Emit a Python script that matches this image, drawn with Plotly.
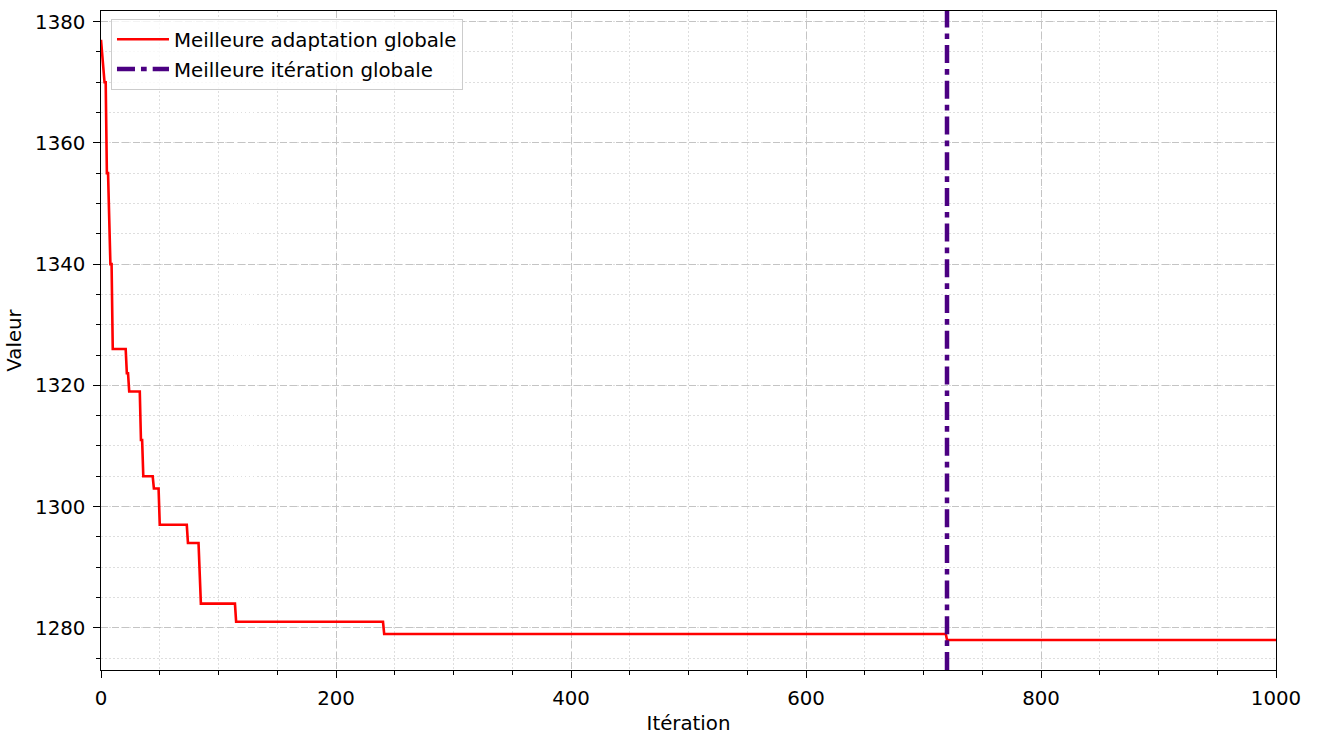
import plotly.graph_objects as go

# Best-so-far fitness: vertices of the stepped convergence curve
iterations = [0, 3, 4, 5, 6, 8, 9, 10, 21, 22, 23, 24, 33, 34, 35, 36, 44, 45,
              49, 50, 73, 74, 83, 85, 114, 115, 240, 241, 719, 720, 1000]
best_fitness = [1377, 1370, 1370, 1355, 1355, 1340, 1340, 1326, 1326, 1322, 1322, 1319,
                1319, 1311, 1311, 1305, 1305, 1303, 1303, 1297, 1297, 1294, 1294, 1284,
                1284, 1281, 1281, 1279, 1279, 1278, 1278]

best_iteration = 720
x_range = [0, 1000]
y_range = [1273.05, 1381.75]

x_ticks = [0, 200, 400, 600, 800, 1000]
y_ticks = [1280, 1300, 1320, 1340, 1360, 1380]

FONT = "DejaVu Sans"
FS = 19.8

fig = go.Figure()

fig.add_trace(go.Scatter(
    x=iterations, y=best_fitness, mode="lines",
    name="Meilleure adaptation globale",
    line=dict(color="#ff0000", width=2.6),
    legendgroup="a",
))

fig.add_trace(go.Scatter(
    x=[best_iteration, best_iteration], y=y_range, mode="lines",
    name="Meilleure itération globale",
    line=dict(color="#4b0082", width=4.5, dash="18px,6px,5.7px,6px"),
    legendgroup="b",
))

axis_common = dict(
    showline=True, linecolor="black", linewidth=1.2, mirror=True,
    ticks="outside", ticklen=6.5, tickwidth=1.2, tickcolor="black",
    showgrid=True, gridcolor="#c4c4c4", gridwidth=1, griddash="7px,3.5px",
    zeroline=False, automargin=False,
    tickfont=dict(family=FONT, size=FS, color="black"),
    ticklabelstandoff=4,
)

fig.update_xaxes(
    **axis_common,
    range=x_range, tickvals=x_ticks,
    title=dict(text="Itération", font=dict(family=FONT, size=FS, color="black"), standoff=8),
    minor=dict(dtick=50, tick0=0, ticks="outside", ticklen=3.5, tickwidth=1, tickcolor="black",
               showgrid=True, gridcolor="#dedede", gridwidth=1, griddash="1.5px,2.5px"),
)
fig.update_yaxes(
    **axis_common,
    range=y_range, tickvals=y_ticks,
    title=dict(text="Valeur", font=dict(family=FONT, size=FS, color="black"), standoff=8),
    minor=dict(dtick=5, tick0=1280, ticks="outside", ticklen=3.5, tickwidth=1, tickcolor="black",
               showgrid=True, gridcolor="#dedede", gridwidth=1, griddash="1.5px,2.5px"),
)

fig.update_layout(
    width=1317, height=735,
    margin=dict(l=101, r=41, t=11, b=65),
    paper_bgcolor="white", plot_bgcolor="white",
    font=dict(family=FONT, size=FS, color="black"),
    showlegend=True,
    legend=dict(
        x=0.0085, y=0.988, xanchor="left", yanchor="top",
        bgcolor="rgba(255,255,255,0.8)", bordercolor="#cccccc", borderwidth=1,
        font=dict(family=FONT, size=FS, color="black"),
        itemwidth=52, tracegroupgap=1,
    ),
)

fig.write_html("out.html")
